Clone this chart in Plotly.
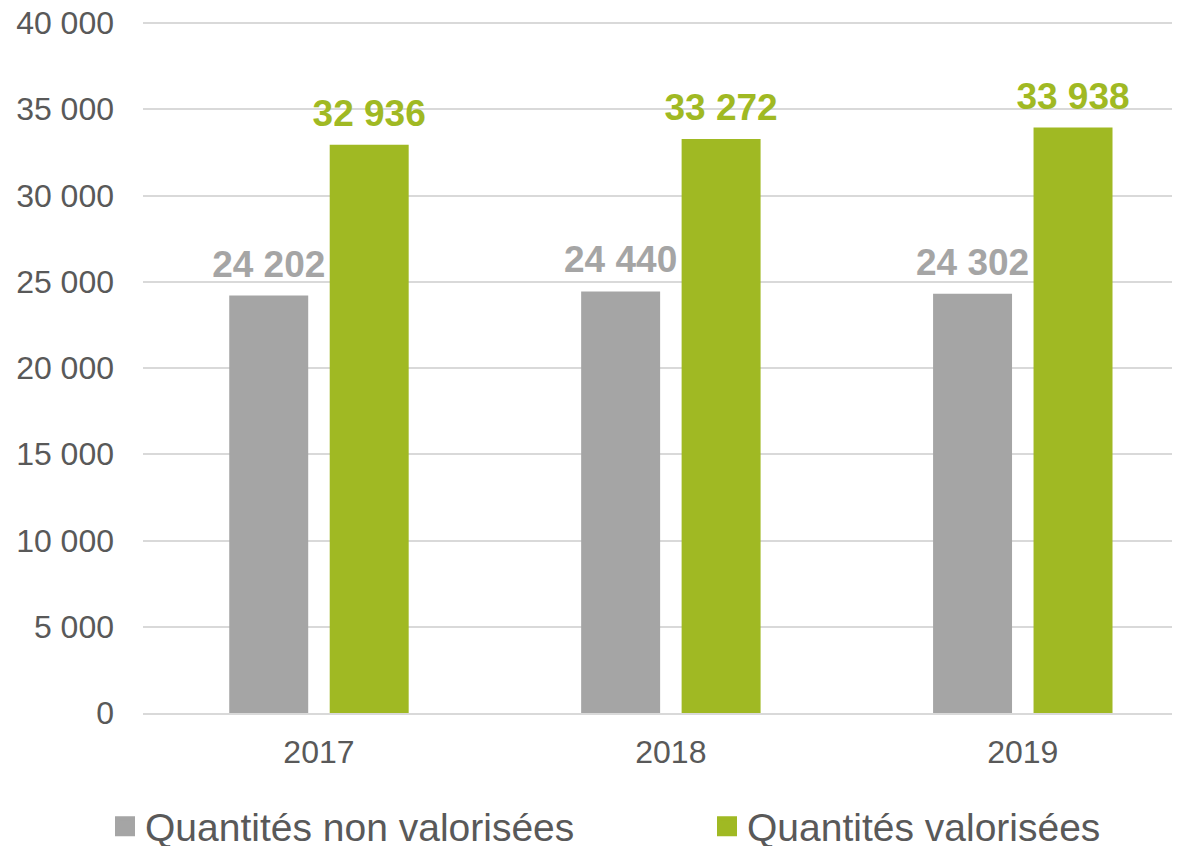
import plotly.graph_objects as go

years = ["2017", "2018", "2019"]
non_valorisees = [24202, 24440, 24302]
valorisees = [32936, 33272, 33938]
series_names = ["Quantités non valorisées", "Quantités valorisées"]
colors = ["#A5A5A5", "#A0B923"]
y_ticks = [0, 5000, 10000, 15000, 20000, 25000, 30000, 35000, 40000]

FONT = "Liberation Sans, Arial, sans-serif"


def fmt(v):
    return f"{v:,d}".replace(",", " ")


fig = go.Figure()
for i, (name, vals, col) in enumerate(zip(series_names, [non_valorisees, valorisees], colors)):
    fig.add_trace(go.Bar(
        x=years, y=vals, name=name, offsetgroup=str(i),
        marker=dict(color=col, line=dict(width=0)),
        showlegend=False, hoverinfo="x+y",
    ))
for i, (vals, col) in enumerate(zip([non_valorisees, valorisees], colors)):
    fig.add_trace(go.Scatter(
        x=years, y=vals, offsetgroup=str(i), mode="markers+text",
        text=[fmt(v) for v in vals], textposition="top center",
        texttemplate="<b>%{text}</b>",
        textfont=dict(family=FONT, size=37, color=col),
        marker=dict(size=14, opacity=0, color=col),
        showlegend=False, hoverinfo="skip", cliponaxis=False,
    ))
# legend entries (square swatches like the original)
for i, (name, col) in enumerate(zip(series_names, colors)):
    fig.add_trace(go.Scatter(
        x=[None], y=[None], name=name, mode="markers",
        marker=dict(symbol="square", size=16, color=col, line=dict(color=col, width=4)),
        legendwidth=557 if i == 0 else 400,
        hoverinfo="skip",
    ))

y_top = 40000 + 2 * 40000 / 690

fig.update_layout(
    width=1186, height=846,
    margin=dict(l=135, r=22, t=13, b=141, autoexpand=False),
    paper_bgcolor="white", plot_bgcolor="white",
    separators=", ",
    barmode="group", bargap=0.429, bargroupgap=0.214,
    scattermode="group", scattergap=0.429,
    font=dict(family=FONT, color="#595959", size=32),
    showlegend=True,
    legend=dict(
        orientation="h",
        x=-0.0369, xanchor="left", y=-0.1638, yanchor="middle",
        font=dict(size=39, color="#595959"),
        entrywidthmode="pixels",
        itemwidth=30,
    ),
    xaxis=dict(
        type="category", range=[-0.5, 2.424],
        showgrid=False, showline=True, linecolor="#D9D9D9", linewidth=2,
        ticks="", ticklabelstandoff=10,
        tickfont=dict(size=32, color="#595959"),
    ),
    yaxis=dict(
        range=[0, y_top], tickvals=y_ticks, tickformat=",d",
        showgrid=True, gridcolor="#D9D9D9", gridwidth=2,
        zeroline=False, showline=False, ticks="",
        ticklabelstandoff=28, ticklabeloverflow="allow",
        tickfont=dict(size=32, color="#595959"),
    ),
)

fig.write_html("out.html")
